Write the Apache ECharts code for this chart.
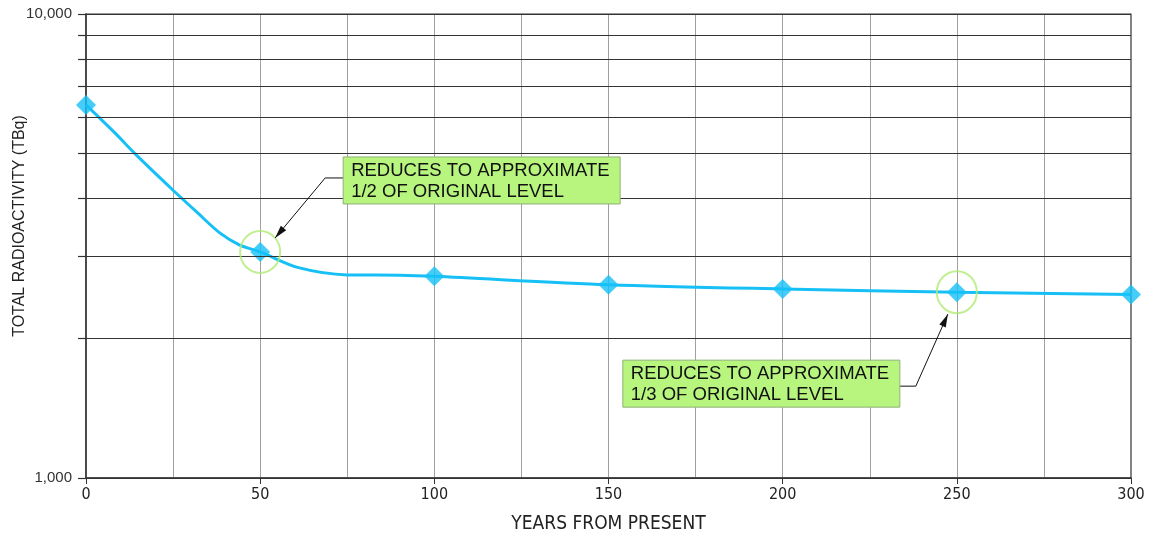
<!DOCTYPE html>
<html>
<head>
<meta charset="utf-8">
<script src="https://cdn.jsdelivr.net/npm/echarts@6/dist/echarts.min.js"></script>
<style>
  html, body { margin: 0; padding: 0; background: #ffffff; }
  #chart { width: 1151px; height: 534px; }
</style>
</head>
<body>
<div id="chart"></div>
<script>
// Total radioactivity (TBq) at 50-year intervals
const years = [0, 50, 100, 150, 200, 250, 300];
const activity = [6370, 3070, 2720, 2610, 2555, 2515, 2485];

// Decay curve drawn through the markers
const curveYears = [0, 8, 15, 25, 32, 38.5, 44, 50, 61, 75, 90, 100, 150, 200, 250, 300];
const curveActivity = [6370, 5570, 4920, 4170, 3730, 3370, 3180, 3070, 2840, 2740, 2735, 2720, 2610, 2555, 2515, 2485];

// Points called out by the notes
const noteYears = [50, 250];
const noteActivity = [3070, 2515];
const noteTexts = [
  'REDUCES TO APPROXIMATE\n1/2 OF ORIGINAL LEVEL',
  'REDUCES TO APPROXIMATE\n1/3 OF ORIGINAL LEVEL'
];

// Axis ticks and labels
const xTicks = [0, 50, 100, 150, 200, 250, 300];
const yGridValues = [1000, 2000, 3000, 4000, 5000, 6000, 7000, 8000, 9000, 10000];
const yLabelValues = [1000, 10000];

const xTitle = 'YEARS FROM PRESENT';
const yTitle = 'TOTAL RADIOACTIVITY (TBq)';

const NARROW = '"Liberation Sans Narrow", "DejaVu Sans Condensed", "Liberation Sans", Arial, sans-serif';
const SANS = '"Liberation Sans", Arial, sans-serif';

const chart = echarts.init(document.getElementById('chart'), null, { renderer: 'canvas' });

const LINE_BLUE = '#16c0f7';
const RING_GREEN = '#b2ea74';
const BOX_GREEN = '#b8f57e';

chart.setOption({
  animation: false,
  backgroundColor: '#ffffff',
  grid: {
    left: 86, right: 20, top: 14, bottom: 56,
    outerBoundsMode: 'none', containLabel: false,
    show: true, borderColor: '#333', borderWidth: 1.2, backgroundColor: 'transparent'
  },
  xAxis: {
    type: 'value',
    min: xTicks[0], max: xTicks[xTicks.length - 1], interval: 50,
    name: xTitle, nameLocation: 'middle', nameGap: 37, nameMoveOverlap: false,
    nameTextStyle: { fontFamily: NARROW, fontSize: 19, color: '#222' },
    axisLine: { show: true, lineStyle: { color: '#333', width: 1.5 } },
    axisTick: { show: true, length: 6, lineStyle: { color: '#333' } },
    axisLabel: { fontFamily: NARROW, fontSize: 16, color: '#222', margin: 9 },
    splitLine: { show: true, showMaxLine: false, lineStyle: { color: '#a0a0a0', width: 1 } },
    minorTick: { show: false, splitNumber: 2 },
    minorSplitLine: { show: true, lineStyle: { color: '#a0a0a0', width: 1 } }
  },
  yAxis: {
    type: 'log', logBase: 10, min: 1000, max: 10000,
    name: yTitle, nameLocation: 'middle', nameGap: 58, nameRotate: 90, nameMoveOverlap: false,
    nameTextStyle: { fontFamily: SANS, fontSize: 16, color: '#222', padding: [0, 0, 0, 40] },
    axisLine: { show: true, lineStyle: { color: '#333', width: 1.5 } },
    axisTick: { show: true, length: 8, customValues: yGridValues, lineStyle: { color: '#333', width: 1.2 } },
    axisLabel: {
      customValues: yLabelValues, fontFamily: SANS, fontSize: 15, color: '#333', margin: 14,
      formatter: v => Math.round(v).toLocaleString('en-US')
    },
    splitLine: { show: false }
  },
  series: [
    {
      name: 'grid',
      type: 'line',
      data: [],
      silent: true,
      markLine: {
        silent: true, symbol: 'none', label: { show: false },
        lineStyle: { color: '#333', width: 1.2, type: 'solid' },
        data: yGridValues.map(v => ({ yAxis: v }))
      }
    },
    {
      name: 'curve',
      type: 'line',
      data: curveYears.map((x, i) => [x, curveActivity[i]]),
      smooth: 0.3,
      showSymbol: false,
      lineStyle: { color: LINE_BLUE, width: 3 },
      z: 3
    },
    {
      name: 'markers',
      type: 'scatter',
      data: years.map((x, i) => [x, activity[i]]),
      symbol: 'diamond',
      symbolSize: [20, 20],
      itemStyle: { color: LINE_BLUE },
      z: 4
    },
    {
      name: 'rings',
      type: 'scatter',
      data: noteYears.map((x, i) => [x, noteActivity[i]]),
      symbol: 'circle',
      symbolSize: [40, 42],
      itemStyle: { color: 'rgba(0,0,0,0)', borderColor: RING_GREEN, borderWidth: 2 },
      z: 5
    }
  ]
});

// Callout boxes with leader arrows, placed relative to the annotated points
function arrowHead(tip, from, len, half) {
  const dx = tip[0] - from[0], dy = tip[1] - from[1];
  const d = Math.hypot(dx, dy);
  const ux = dx / d, uy = dy / d;
  const bx = tip[0] - ux * len, by = tip[1] - uy * len;
  return [tip, [bx - uy * half, by + ux * half], [bx + uy * half, by - ux * half]];
}

function buildNotes() {
  const p1 = chart.convertToPixel({ gridIndex: 0 }, [noteYears[0], noteActivity[0]]);
  const p2 = chart.convertToPixel({ gridIndex: 0 }, [noteYears[1], noteActivity[1]]);
  const boxW = 277, boxH = 47;
  const textStyle = { fontFamily: SANS, fontSize: 18.5, fill: '#111', lineHeight: 21 };

  // upper note: box to the upper right of the 50-year point
  const b1 = [p1[0] + 83, p1[1] - 95];
  const l1 = [[b1[0], b1[1] + 21], [b1[0] - 18, b1[1] + 21], [p1[0] + 15, p1[1] - 14]];
  // lower note: box to the lower left of the 250-year point
  const b2 = [p2[0] - 334, p2[1] + 68];
  const l2 = [[b2[0] + boxW, b2[1] + 26], [b2[0] + boxW + 16, b2[1] + 26], [p2[0] - 9, p2[1] + 22]];

  const els = [];
  [[b1, l1, noteTexts[0]], [b2, l2, noteTexts[1]]].forEach(([b, l, txt]) => {
    els.push({
      type: 'polyline', silent: true, z: 10,
      shape: { points: l },
      style: { stroke: '#111', lineWidth: 1, fill: null }
    });
    els.push({
      type: 'polygon', silent: true, z: 10,
      shape: { points: arrowHead(l[2], l[1], 13, 3.5) },
      style: { fill: '#111' }
    });
    els.push({
      type: 'rect', silent: true, z: 10,
      shape: { x: b[0], y: b[1], width: boxW, height: boxH },
      style: { fill: BOX_GREEN, stroke: '#8fb07a', lineWidth: 1 }
    });
    els.push({
      type: 'text', silent: true, z: 11,
      x: b[0] + 8, y: b[1] + 3,
      style: Object.assign({ text: txt }, textStyle)
    });
  });
  chart.setOption({ graphic: { elements: els } });
}
buildNotes();
</script>
</body>
</html>
